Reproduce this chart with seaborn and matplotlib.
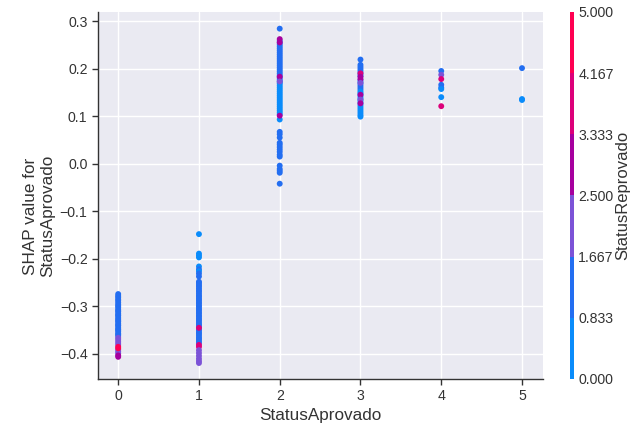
import numpy as np
import pandas as pd
import matplotlib
matplotlib.use("Agg")
import matplotlib.pyplot as plt
import seaborn as sns
from matplotlib.colors import ListedColormap, BoundaryNorm
from matplotlib.cm import ScalarMappable

# ---- data ----
# StatusAprovado = 0
shap_0 = [-0.274, -0.278, -0.281, -0.285, -0.288, -0.292, -0.296, -0.299, -0.302, -0.306,
          -0.309, -0.311, -0.315, -0.318, -0.320, -0.324, -0.327, -0.330, -0.332, -0.336,
          -0.339, -0.341, -0.345, -0.348, -0.350, -0.353, -0.357, -0.359, -0.362,
          -0.366, -0.369, -0.373, -0.377, -0.381, -0.391, -0.395, -0.399,
          -0.385, -0.388, -0.403, -0.406]
rep_0 = [1] * 29 + [2] * 8 + [5, 5, 3, 3]

# StatusAprovado = 1
shap_1 = [-0.148, -0.189, -0.193, -0.197, -0.216, -0.222, -0.226, -0.231, -0.237,
          -0.248, -0.251, -0.255, -0.258, -0.262, -0.266, -0.269, -0.273, -0.277, -0.280,
          -0.284, -0.287, -0.291, -0.294, -0.298, -0.301, -0.305, -0.308, -0.312, -0.315,
          -0.319, -0.322, -0.326, -0.329, -0.333, -0.337, -0.340, -0.344, -0.348, -0.351,
          -0.355, -0.358, -0.362, -0.366, -0.369, -0.373, -0.377,
          -0.345, -0.381, -0.385, -0.392, -0.398, -0.404, -0.410, -0.415, -0.419]
rep_1 = [0, 0, 0, 0, 0, 1, 0, 1, 1] + [1] * 37 + [4, 4, 4, 2, 2, 2, 2, 2, 2]

# StatusAprovado = 2
shap_2 = [0.284, 0.258, 0.254, 0.250, 0.246, 0.242, 0.238, 0.234, 0.230, 0.226,
          0.222, 0.218, 0.214, 0.210, 0.206, 0.202, 0.198, 0.194, 0.190, 0.186,
          0.182, 0.178, 0.174, 0.171,
          0.168, 0.164, 0.160, 0.156, 0.152, 0.148, 0.144, 0.140, 0.136, 0.132,
          0.128, 0.124, 0.120, 0.116, 0.112, 0.108, 0.104, 0.093,
          0.067, 0.062, 0.055, 0.044, 0.040, 0.035, 0.030, 0.025, 0.019, 0.015,
          -0.004, -0.011, -0.015, -0.019, -0.042,
          0.262, 0.255, 0.183, 0.173, 0.101]
rep_2 = [1] * 24 + [0] * 18 + [1] * 15 + [3, 3, 3, 2, 3]

# StatusAprovado = 3
shap_3 = [0.219, 0.208, 0.204, 0.200, 0.196, 0.192, 0.188, 0.184, 0.176, 0.172,
          0.168, 0.164, 0.160, 0.156,
          0.152, 0.149, 0.146, 0.142, 0.138, 0.134, 0.130, 0.126, 0.122, 0.118,
          0.114, 0.110, 0.106, 0.102, 0.099,
          0.190, 0.183, 0.178, 0.170, 0.145, 0.135, 0.127]
rep_3 = [1] * 14 + [0] * 15 + [4, 3, 3, 2, 3, 2, 3]

# StatusAprovado = 4
shap_4 = [0.195, 0.187, 0.178, 0.166, 0.160, 0.157, 0.140, 0.121]
rep_4 = [1, 2, 4, 1, 1, 0, 0, 4]

# StatusAprovado = 5
shap_5 = [0.201, 0.136, 0.134]
rep_5 = [1, 0, 0]

feature_values = [0, 1, 2, 3, 4, 5]
level_colors = ["#0a8cfb", "#236ef1", "#7c53d7", "#a6009e", "#dc007a", "#ff0052"]
cbar_ticks = [0.0, 0.833, 1.667, 2.5, 3.333, 4.167, 5.0]

# ---- build long table ----
groups = [(0, shap_0, rep_0), (1, shap_1, rep_1), (2, shap_2, rep_2),
          (3, shap_3, rep_3), (4, shap_4, rep_4), (5, shap_5, rep_5)]
rows = []
for fv, ys, cs in groups:
    for y, c in zip(ys, cs):
        rows.append((fv, y, c))
df = pd.DataFrame(rows, columns=["StatusAprovado", "shap", "StatusReprovado"])

# ---- style ----
sns.set_style("darkgrid", {
    "axes.facecolor": "#eaeaf2",
    "grid.color": "white",
    "xtick.bottom": True,
    "ytick.left": True,
})
plt.rcParams["font.family"] = ["Liberation Sans", "DejaVu Sans"]

LABEL_FS = 12.3
TICK_FS = 10.2

fig = plt.figure(figsize=(6.34, 4.30), dpi=100)
ax = fig.add_axes([98 / 634, 51 / 430, 445 / 634, 367 / 430])

palette = {i: level_colors[i] for i in range(6)}
sns.scatterplot(data=df, x="StatusAprovado", y="shap", hue="StatusReprovado",
                palette=palette, s=18, linewidth=0, alpha=1, legend=False, ax=ax)

ax.set_xticks(feature_values)
ax.set_xlim(-0.25, 5.26)
ax.set_ylim(-0.4526, 0.319)
ax.set_yticks([-0.4, -0.3, -0.2, -0.1, 0.0, 0.1, 0.2, 0.3])
ax.set_xlabel("StatusAprovado", fontsize=LABEL_FS, color="#333333", labelpad=3)
ax.set_ylabel("SHAP value for\nStatusAprovado", fontsize=LABEL_FS, color="#333333",
              labelpad=3)
ax.yaxis.label.set_y(0.444)
ax.tick_params(axis="both", labelsize=TICK_FS, colors="#333333", length=4.5, width=1,
               direction="out", pad=3)
for side in ["top", "right"]:
    ax.spines[side].set_visible(False)
for side in ["left", "bottom"]:
    ax.spines[side].set_visible(True)
    ax.spines[side].set_color("#333333")
    ax.spines[side].set_linewidth(1.0)
ax.grid(True, color="white", linewidth=1.0)

# ---- colorbar ----
cmap = ListedColormap(level_colors)
bounds = np.linspace(0, 5, 7)
norm = BoundaryNorm(bounds, cmap.N)
cax = fig.add_axes([570 / 634, 51 / 430, 4 / 634, 367 / 430])
sm = ScalarMappable(norm=norm, cmap=cmap)
cb = fig.colorbar(sm, cax=cax, ticks=bounds)
cb.set_ticklabels(["%.3f" % t for t in cbar_ticks])
cb.outline.set_visible(False)
cb.ax.tick_params(length=0, labelsize=TICK_FS, colors="#333333", pad=3)
cb.set_label("StatusReprovado", fontsize=12, color="#333333", labelpad=1)

fig.savefig("out.png", dpi=100)
